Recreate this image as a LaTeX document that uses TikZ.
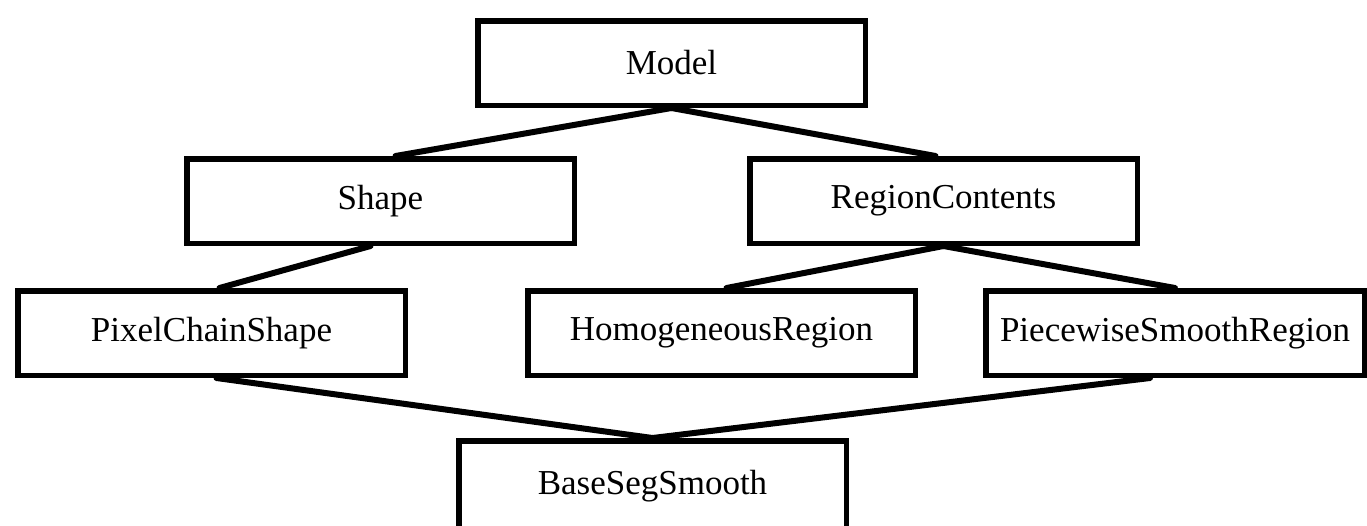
\documentclass[tikz,border=0pt]{standalone}
\usepackage{fontspec}
\setmainfont{Liberation Serif}
\begin{document}
\begin{tikzpicture}[x=1pt,y=-1pt,
  classbox/.style={draw=black, fill=white, line width=5.5pt,
    minimum width=387.5pt, minimum height=84.5pt, inner sep=0pt,
    font=\fontsize{35}{42}\selectfont},
  link/.style={draw=black, line width=6pt, line cap=round}]
  \useasboundingbox (0,0) rectangle (1367,525);

  % class boxes
  \node[classbox] (model) at (671.5,63)   {Model};
  \node[classbox] (shape) at (380.5,201)  {Shape};
  \node[classbox] (rc)    at (943.5,201)  {RegionContents};
  \node[classbox] (pcs)   at (211.5,333)  {PixelChainShape};
  \node[classbox] (hr)    at (721.5,333)  {HomogeneousRegion};
  \node[classbox, minimum width=378.5pt] (psr) at (1175,333) {PiecewiseSmoothRegion};
  \node[classbox, minimum height=91.5pt] (bss) at (652.5,486.5) {BaseSegSmooth};

  % inheritance links
  \draw[link] (model.south) -- ([xshift=15pt]shape.north);
  \draw[link] (model.south) -- ([xshift=-8pt]rc.north);
  \draw[link] ([xshift=-10pt]shape.south) -- ([xshift=8pt]pcs.north);
  \draw[link] (rc.south) -- ([xshift=5pt]hr.north);
  \draw[link] (rc.south) -- (psr.north);
  \draw[link] ([xshift=5pt]pcs.south) -- (bss.north);
  \draw[link] ([xshift=-25pt]psr.south) -- (bss.north);
\end{tikzpicture}
\end{document}
